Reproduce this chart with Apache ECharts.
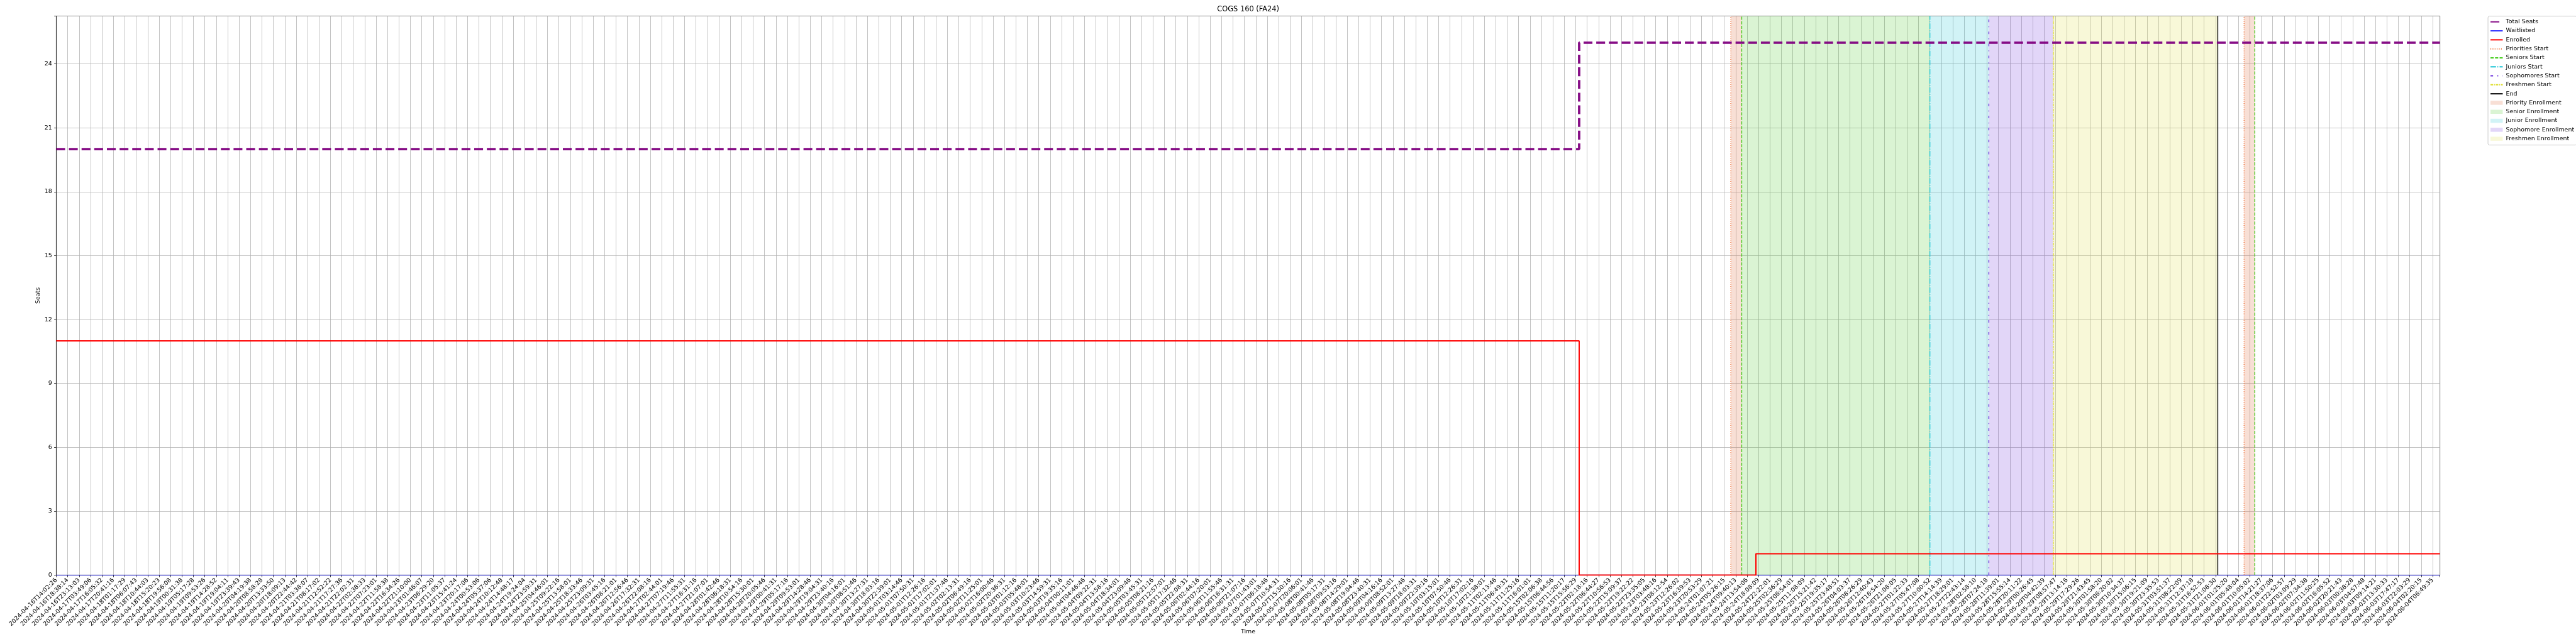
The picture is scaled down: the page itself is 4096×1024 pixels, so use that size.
<!DOCTYPE html>
<html><head><meta charset="utf-8">
<script src="https://cdn.jsdelivr.net/npm/echarts@6/dist/echarts.min.js"></script>
<style>html,body{margin:0;padding:0;background:#fff}#c{width:4096px;height:1024px}</style>
</head><body><div id="c"></div>
<script>
// ---------- data ----------
const timeLabelsStart = [
 '2024-04-16T14:02:26','2024-04-16T18:38:14','2024-04-16T23:13:03','2024-04-17T03:49:06','2024-04-17T16:05:32',
 '2024-04-17T20:41:16','2024-04-18T01:17:29','2024-04-18T06:07:43','2024-04-18T10:44:03','2024-04-18T15:20:23',
 '2024-04-18T19:56:08','2024-04-19T00:31:38','2024-04-19T05:17:28','2024-04-19T09:53:26','2024-04-19T14:28:52',
 '2024-04-19T19:04:11','2024-04-19T23:39:43','2024-04-20T04:19:38','2024-04-20T08:58:28','2024-04-20T13:33:50',
 '2024-04-20T18:09:13','2024-04-20T22:44:42','2024-04-21T03:38:07','2024-04-21T08:17:02','2024-04-21T12:52:22',
 '2024-04-21T17:27:36','2024-04-21T22:02:31','2024-04-22T02:38:33','2024-04-22T07:23:01','2024-04-22T11:58:38',
 '2024-04-22T16:34:26','2024-04-22T21:10:00','2024-04-23T01:46:07','2024-04-23T06:29:20','2024-04-23T11:05:37',
 '2024-04-23T15:41:24','2024-04-23T20:17:06','2024-04-24T00:53:06','2024-04-24T05:37:06','2024-04-24T10:12:48',
 '2024-04-24T14:48:17','2024-04-24T19:24:04','2024-04-24T23:59:31','2024-04-25T04:46:01','2024-04-25T09:22:16'
];
// NOTE: these 85 labels could not be read at the available resolution; they are rough estimates
// following the sampling cadence visible in the legible labels.
const timeLabelsMiddle = [
 '2024-04-25T13:58:01','2024-04-25T18:33:46','2024-04-25T23:09:31','2024-04-26T03:45:16','2024-04-26T08:21:01',
 '2024-04-26T12:56:46','2024-04-26T17:32:31','2024-04-26T22:08:16','2024-04-27T02:44:01','2024-04-27T07:19:46',
 '2024-04-27T11:55:31','2024-04-27T16:31:16','2024-04-27T21:07:01','2024-04-28T01:42:46','2024-04-28T06:18:31',
 '2024-04-28T10:54:16','2024-04-28T15:30:01','2024-04-28T20:05:46','2024-04-29T00:41:31','2024-04-29T05:17:16',
 '2024-04-29T09:53:01','2024-04-29T14:28:46','2024-04-29T19:04:31','2024-04-29T23:40:16','2024-04-30T04:16:01',
 '2024-04-30T08:51:46','2024-04-30T13:27:31','2024-04-30T18:03:16','2024-04-30T22:39:01','2024-05-01T03:14:46',
 '2024-05-01T07:50:31','2024-05-01T12:26:16','2024-05-01T17:02:01','2024-05-01T21:37:46','2024-05-02T02:13:31',
 '2024-05-02T06:49:16','2024-05-02T11:25:01','2024-05-02T16:00:46','2024-05-02T20:36:31','2024-05-03T01:12:16',
 '2024-05-03T05:48:01','2024-05-03T10:23:46','2024-05-03T14:59:31','2024-05-03T19:35:16','2024-05-04T00:11:01',
 '2024-05-04T04:46:46','2024-05-04T09:22:31','2024-05-04T13:58:16','2024-05-04T18:34:01','2024-05-04T23:09:46',
 '2024-05-05T03:45:31','2024-05-05T08:21:16','2024-05-05T12:57:01','2024-05-05T17:32:46','2024-05-05T22:08:31',
 '2024-05-06T02:44:16','2024-05-06T07:20:01','2024-05-06T11:55:46','2024-05-06T16:31:31','2024-05-06T21:07:16',
 '2024-05-07T01:43:01','2024-05-07T06:18:46','2024-05-07T10:54:31','2024-05-07T15:30:16','2024-05-07T20:06:01',
 '2024-05-08T00:41:46','2024-05-08T05:17:31','2024-05-08T09:53:16','2024-05-08T14:29:01','2024-05-08T19:04:46',
 '2024-05-08T23:40:31','2024-05-09T04:16:16','2024-05-09T08:52:01','2024-05-09T13:27:46','2024-05-09T18:03:31',
 '2024-05-09T22:39:16','2024-05-10T03:15:01','2024-05-10T07:50:46','2024-05-10T12:26:31','2024-05-10T17:02:16',
 '2024-05-10T21:38:01','2024-05-11T02:13:46','2024-05-11T06:49:31','2024-05-11T11:25:16','2024-05-11T16:01:01'
];
const timeLabelsEnd = [
 '2024-05-15T02:06:38','2024-05-15T06:44:56','2024-05-15T11:20:17','2024-05-15T15:56:29','2024-05-22T02:18:16',
 '2024-05-22T06:44:27','2024-05-22T10:56:53','2024-05-22T15:09:37','2024-05-22T19:22:22','2024-05-22T23:35:05',
 '2024-05-23T03:48:16','2024-05-23T08:12:54','2024-05-23T12:26:02','2024-05-23T16:39:53','2024-05-23T20:53:29',
 '2024-05-24T01:07:21','2024-05-24T05:26:15','2024-05-24T09:40:13','2024-05-24T13:54:06','2024-05-24T18:08:09',
 '2024-05-24T22:22:01','2024-05-25T02:36:29','2024-05-25T06:54:01','2024-05-25T11:08:09','2024-05-25T15:21:42',
 '2024-05-25T19:35:17','2024-05-25T23:48:51','2024-05-26T04:03:37','2024-05-26T08:26:29','2024-05-26T12:40:43',
 '2024-05-26T16:54:20','2024-05-26T21:08:05','2024-05-27T01:22:33','2024-05-27T05:47:08','2024-05-27T10:00:52',
 '2024-05-27T14:14:39','2024-05-27T18:29:01','2024-05-27T22:43:14','2024-05-28T02:58:10','2024-05-28T07:24:18',
 '2024-05-28T11:39:01','2024-05-28T15:55:14','2024-05-28T20:11:22','2024-05-29T00:26:45','2024-05-29T04:42:39',
 '2024-05-29T08:57:47','2024-05-29T13:14:16','2024-05-29T17:29:26','2024-05-29T21:43:45','2024-05-30T01:58:20',
 '2024-05-30T06:20:02','2024-05-30T10:34:37','2024-05-30T15:06:15','2024-05-30T19:21:09','2024-05-30T23:35:53',
 '2024-05-31T03:51:37','2024-05-31T08:22:09','2024-05-31T12:37:18','2024-05-31T16:52:53','2024-05-31T21:08:30',
 '2024-06-01T01:25:20','2024-06-01T05:48:04','2024-06-01T10:05:02','2024-06-01T14:21:27','2024-06-01T18:37:06',
 '2024-06-01T22:52:57','2024-06-02T03:09:29','2024-06-02T07:34:38','2024-06-02T11:50:25','2024-06-02T16:05:52',
 '2024-06-02T20:21:43','2024-06-03T00:38:28','2024-06-03T04:57:48','2024-06-03T09:14:21','2024-06-03T13:30:33',
 '2024-06-03T17:47:17','2024-06-03T22:03:29','2024-06-04T02:20:15','2024-06-04T06:49:35'
];
const timeLabels = timeLabelsStart.concat(timeLabelsMiddle, timeLabelsEnd);

const yTicks = [0, 3, 6, 9, 12, 15, 18, 21, 24];
const xMax = 208.64;      // x axis end, in category-index units
const yMax = 26.25;

// step series (x in category-index units)
const totalSeatsX = [0, 133.3, 208.64];
const totalSeatsY = [20, 25, 25];
const waitlistedX = [0, 208.64];
const waitlistedY = [0, 0];
const enrolledX = [0, 133.3, 148.77, 208.64];
const enrolledY = [11, 0, 1, 1];

// event markers (category-index units)
const prioritiesStart = [146.57, 191.5];
const seniorsStart = [147.53, 192.44];
const juniorsStart = [164.0];
const sophomoresStart = [169.16];
const freshmenStart = [174.8];
const endTimes = [189.2];

// shaded periods
const priorityPeriods = [[146.57, 147.53], [191.5, 192.44]];
const seniorPeriods = [[147.53, 164.0]];
const juniorPeriods = [[164.0, 169.16]];
const sophomorePeriods = [[169.16, 174.8]];
const freshmenPeriods = [[174.8, 189.2]];

// ---------- chart ----------
const S = 4096 / 6000;
const FONT = 'DejaVu Sans';
const FS = 13.9 * S;

function pairs(xs, ys) { return xs.map((x, i) => [x, ys[i]]); }

function vlineSeries(name, xs, color, width, dash) {
  return xs.map(x => ({
    type: 'line', name, data: [[x, 0], [x, yMax]], symbol: 'none', silent: true,
    lineStyle: { color, width, type: dash }, itemStyle: { color }, z: 3
  }));
}
function spanSeries(name, spans, color) {
  return {
    type: 'custom', name, silent: true, z: 1,
    data: spans.map(s => [s[0], s[1], 0, yMax]),
    encode: { x: [0, 1], y: [2, 3] },
    itemStyle: { color },
    renderItem: (params, api) => {
      const p0 = api.coord([api.value(0), api.value(3)]);
      const p1 = api.coord([api.value(1), api.value(2)]);
      return { type: 'rect', shape: { x: p0[0], y: p0[1], width: p1[0] - p0[0], height: p1[1] - p0[1] },
               style: { fill: color } };
    }
  };
}

const gridLeft = 131 * S, gridRight = 5683 * S, gridTop = 37.3 * S, gridBottom = 1339.5 * S;
const axisLineStyle = { color: '#000', width: 0.8 * 1.389 * S };
const gridLineStyle = { color: '#b0b0b0', width: 0.8 * 1.389 * S };

const C = {
  prio: '#ee6a2f', prioFill: 'rgba(221,96,45,0.2)',
  sen: '#44cc1c', senFill: 'rgba(68,200,36,0.2)',
  jun: '#1ac4d4', junFill: 'rgba(24,196,210,0.2)',
  soph: '#6a2fdc', sophFill: 'rgba(110,50,220,0.2)',
  fresh: '#dede2c', freshFill: 'rgba(222,222,60,0.2)'
};

const hiddenSymbol = { color: 'rgba(0,0,0,0)', borderColor: 'rgba(0,0,0,0)', borderWidth: 0, opacity: 0 };
const lineNames = ['Total Seats', 'Waitlisted', 'Enrolled', 'Priorities Start', 'Seniors Start',
                   'Juniors Start', 'Sophomores Start', 'Freshmen Start', 'End'];
const areaNames = ['Priority Enrollment', 'Senior Enrollment', 'Junior Enrollment',
                   'Sophomore Enrollment', 'Freshmen Enrollment'];

const chart = echarts.init(document.getElementById('c'), null, { renderer: 'canvas' });
chart.setOption({
  animation: false,
  backgroundColor: '#fff',
  title: {
    text: 'COGS 160 (FA24)', left: (2906 - 71) * S, top: 10, padding: 0,
    textStyle: { fontFamily: FONT, fontSize: 16.7 * S, fontWeight: 'normal', color: '#000' }
  },
  legend: {
    orient: 'vertical', left: 5795 * S, top: 37.7 * S,
    itemWidth: 28.5 * S, itemHeight: 9.5 * S, itemGap: 2.3,
    padding: [3, 4, 4, 3],
    borderColor: '#cccccc', borderWidth: 1, borderRadius: 2.5,
    backgroundColor: 'rgba(255,255,255,0.8)', selectedMode: false,
    textStyle: { fontFamily: FONT, fontSize: FS, color: '#000', lineHeight: 12 },
    data: lineNames.map(n => ({ name: n, itemStyle: hiddenSymbol }))
      .concat(areaNames.map(n => ({ name: n, icon: 'rect' })))
  },
  grid: {
    left: gridLeft, top: gridTop, width: gridRight - gridLeft, height: gridBottom - gridTop,
    show: true, borderColor: '#000', borderWidth: axisLineStyle.width, backgroundColor: 'transparent',
    containLabel: false, outerBoundsMode: 'none'
  },
  xAxis: {
    type: 'value', min: 0, max: xMax, interval: 1,
    name: 'Time', nameLocation: 'middle', nameGap: 86, nameMoveOverlap: false,
    nameTextStyle: { fontFamily: FONT, fontSize: FS, color: '#000' },
    axisLine: { show: true, onZero: false, lineStyle: axisLineStyle },
    axisTick: { show: true, length: 4.9 * S, lineStyle: axisLineStyle },
    axisLabel: {
      rotate: 45, margin: 6.5, fontFamily: FONT, fontSize: FS, color: '#000',
      formatter: v => { const i = Math.round(v); return Math.abs(v - i) < 1e-6 && timeLabels[i] !== undefined ? timeLabels[i] : ''; }
    },
    splitLine: { show: true, lineStyle: gridLineStyle }
  },
  yAxis: {
    type: 'value', min: 0, max: yMax, interval: 3,
    name: 'Seats', nameLocation: 'middle', nameGap: 24, nameMoveOverlap: false,
    nameTextStyle: { fontFamily: FONT, fontSize: FS, color: '#000' },
    axisLine: { show: true, onZero: false, lineStyle: axisLineStyle },
    axisTick: { show: true, length: 4.9 * S, lineStyle: axisLineStyle },
    axisLabel: {
      margin: 6.6, fontFamily: FONT, fontSize: FS, color: '#000',
      formatter: v => yTicks.indexOf(v) >= 0 ? String(v) : ''
    },
    splitLine: { show: true, lineStyle: gridLineStyle }
  },
  series: [
    { type: 'line', name: 'Total Seats', data: pairs(totalSeatsX, totalSeatsY), step: 'end', symbol: 'none', silent: true, z: 6,
      lineStyle: { color: '#800080', width: 5.56 * S, type: [20.6 * S, 8.9 * S], opacity: 0.95 }, itemStyle: { color: '#800080' } },
    { type: 'line', name: 'Waitlisted', data: pairs(waitlistedX, waitlistedY), step: 'end', symbol: 'none', silent: true, z: 5,
      lineStyle: { color: '#0000ff', width: 1.4 * S, opacity: 0.8 }, itemStyle: { color: '#0000ff' } },
    { type: 'line', name: 'Enrolled', data: pairs(enrolledX, enrolledY), step: 'end', symbol: 'none', silent: true, z: 6,
      lineStyle: { color: '#ff0000', width: 2.9 * S }, itemStyle: { color: '#ff0000' } },
    ...vlineSeries('Priorities Start', prioritiesStart, C.prio, 2 * S, [1.6 * S, 3.3 * S]),
    ...vlineSeries('Seniors Start', seniorsStart, C.sen, 2 * S, [7.4 * S, 3.2 * S]),
    ...vlineSeries('Juniors Start', juniorsStart, C.jun, 2 * S, [12.8 * S, 3.2 * S, 2 * S, 3.2 * S]),
    ...vlineSeries('Sophomores Start', sophomoresStart, C.soph, 2 * S, [6 * S, 10 * S, 2 * S, 10 * S]),
    ...vlineSeries('Freshmen Start', freshmenStart, C.fresh, 2 * S, [6 * S, 2 * S, 2 * S, 2 * S]),
    ...vlineSeries('End', endTimes, '#000000', 2 * S, 'solid'),
    spanSeries('Priority Enrollment', priorityPeriods, C.prioFill),
    spanSeries('Senior Enrollment', seniorPeriods, C.senFill),
    spanSeries('Junior Enrollment', juniorPeriods, C.junFill),
    spanSeries('Sophomore Enrollment', sophomorePeriods, C.sophFill),
    spanSeries('Freshmen Enrollment', freshmenPeriods, C.freshFill)
  ]
});
</script>
</body></html>
